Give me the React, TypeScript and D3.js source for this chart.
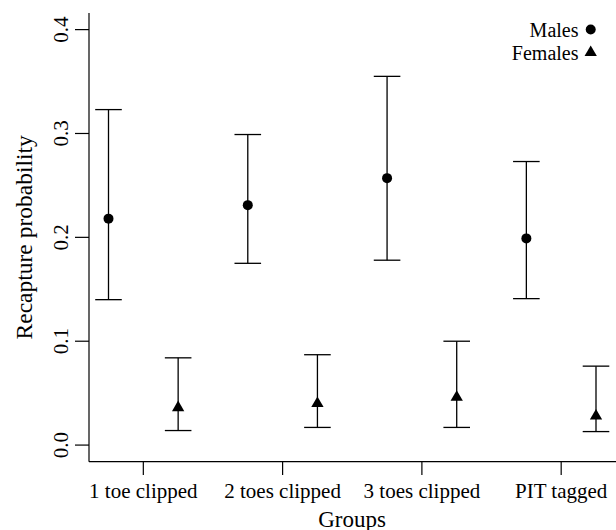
import React from "react";
import * as d3 from "d3";

const groups = ["1 toe clipped", "2 toes clipped", "3 toes clipped", "PIT tagged"];
const maleEst = [0.218, 0.231, 0.257, 0.199];
const maleLow = [0.14, 0.175, 0.178, 0.141];
const maleHigh = [0.323, 0.299, 0.355, 0.273];
const femaleEst = [0.036, 0.04, 0.046, 0.028];
const femaleLow = [0.014, 0.017, 0.017, 0.013];
const femaleHigh = [0.084, 0.087, 0.1, 0.076];
const yTicks = [0, 0.1, 0.2, 0.3, 0.4];
const legendLabels = ["Males", "Females"];

const W = 616;
const H = 530;
const FONT = "'Liberation Serif', 'Times New Roman', serif";

export default function App() {
  const x = d3.scaleLinear().domain([0.72, 8.28]).range([89, 615.5]);
  const y = d3.scaleLinear().domain([-0.016, 0.416]).range([461.7, 13]);
  const cap = 13.3;
  const triSize = 4.57;
  const triangle = (cx: number, cy: number) => {
    const r = 1.555 * triSize;
    const xc = 1.347 * triSize;
    const yc = 0.778 * triSize;
    const p = d3.path();
    p.moveTo(cx, cy - r);
    p.lineTo(cx + xc, cy + yc);
    p.lineTo(cx - xc, cy + yc);
    p.closePath();
    return p.toString();
  };

  const series = [
    { est: maleEst, low: maleLow, high: maleHigh, offset: 0, shape: "circle" },
    { est: femaleEst, low: femaleLow, high: femaleHigh, offset: 1, shape: "triangle" },
  ];

  return (
    <svg
      width={W}
      height={H}
      style={{ position: "absolute", left: 0, top: 0, background: "#fff" }}
      fontFamily={FONT}
    >
      {/* y axis */}
      <line x1={89} x2={89} y1={y.range()[1]} y2={y.range()[0]} stroke="#000" strokeWidth={1.2} />
      {yTicks.map((t) => (
        <g key={t}>
          <line x1={75} x2={89} y1={y(t)} y2={y(t)} stroke="#000" strokeWidth={1.2} />
          <text
            transform={`translate(68,${y(t)}) rotate(-90)`}
            textAnchor="middle"
            fontSize={21}
            fill="#000"
          >
            {t.toFixed(1)}
          </text>
        </g>
      ))}
      {/* x axis */}
      <line x1={89} x2={W} y1={461.7} y2={461.7} stroke="#000" strokeWidth={1.2} />
      {groups.map((g, i) => {
        const tx = x(1.5 + 2 * i);
        return (
          <g key={g}>
            <line x1={tx} x2={tx} y1={461.7} y2={475} stroke="#000" strokeWidth={1.2} />
            <text x={tx} y={497.5} textAnchor="middle" fontSize={21} fill="#000">
              {g}
            </text>
          </g>
        );
      })}
      <text x={352} y={527} textAnchor="middle" fontSize={23} fill="#000">
        Groups
      </text>
      <text
        transform={`translate(32,${(y.range()[0] + y.range()[1]) / 2}) rotate(-90)`}
        textAnchor="middle"
        fontSize={23.5}
        fill="#000"
      >
        Recapture probability
      </text>

      {/* error bars */}
      {series.map((s, si) =>
        s.est.map((v, i) => {
          const cx = x(1 + 2 * i + s.offset);
          return (
            <g key={`${si}-${i}`}>
              <line x1={cx} x2={cx} y1={y(s.low[i])} y2={y(s.high[i])} stroke="#000" strokeWidth={1.3} />
              <line x1={cx - cap} x2={cx + cap} y1={y(s.low[i])} y2={y(s.low[i])} stroke="#000" strokeWidth={1.3} />
              <line x1={cx - cap} x2={cx + cap} y1={y(s.high[i])} y2={y(s.high[i])} stroke="#000" strokeWidth={1.3} />
              {s.shape === "circle" ? (
                <circle cx={cx} cy={y(v)} r={5} fill="#000" />
              ) : (
                <path d={triangle(cx, y(v))} fill="#000" />
              )}
            </g>
          );
        })
      )}

      {/* legend */}
      <text x={578.5} y={29.5} dy="0.35em" textAnchor="end" fontSize={20} fill="#000">
        {legendLabels[0]}
      </text>
      <circle cx={590.7} cy={29.5} r={5} fill="#000" />
      <text x={578.5} y={52.5} dy="0.35em" textAnchor="end" fontSize={20} fill="#000">
        {legendLabels[1]}
      </text>
      <path d={triangle(590.7, 52.5)} fill="#000" />
    </svg>
  );
}
